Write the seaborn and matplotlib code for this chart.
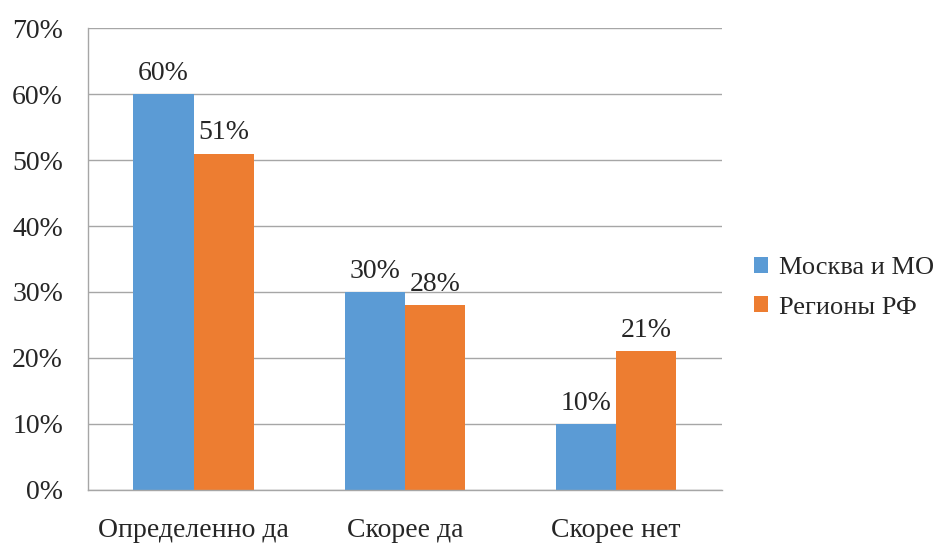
import pandas as pd
import seaborn as sns
import matplotlib.pyplot as plt
from matplotlib.ticker import FuncFormatter, FixedLocator

# Data
categories = ['Определенно да', 'Скорее да', 'Скорее нет']
groups = ['Москва и МО', 'Регионы РФ']
moscow = [60, 30, 10]
regions = [51, 28, 21]
colors = ['#5B9BD5', '#ED7D31']

df = pd.DataFrame({
    'category': categories * 2,
    'group': [groups[0]] * 3 + [groups[1]] * 3,
    'value': moscow + regions,
})

sns.set_style('white')
plt.rcParams['font.family'] = ['Liberation Serif', 'DejaVu Serif']

fig = plt.figure(figsize=(9.47, 5.43), dpi=100)
ax = fig.add_axes([0.093, 0.098, 0.669, 0.850])

sns.barplot(data=df, x='category', y='value', hue='group', palette=colors,
            width=0.57, saturation=1, linewidth=0, ax=ax, legend=True)

# Value labels on top of bars
for cont in ax.containers:
    ax.bar_label(cont, labels=[f'{int(v)}%' for v in cont.datavalues],
                 padding=6, fontsize=20)

ax.set_ylim(0, 70)
ax.set_xlim(-0.5, 2.5)
ax.set_yticks(range(0, 71, 10))
ax.yaxis.set_major_formatter(FuncFormatter(lambda v, p: f'{int(v)}%'))
ax.grid(axis='y', color='#A6A6A6', linewidth=1)
ax.set_axisbelow(True)

# Category ticks sit between the groups
ax.xaxis.set_minor_locator(FixedLocator([-0.5, 0.5, 1.5, 2.5]))
ax.tick_params(axis='x', which='major', length=0, pad=20, labelsize=20)
ax.tick_params(axis='x', which='minor', length=6, color='#A6A6A6', width=1)
ax.tick_params(axis='y', length=6, color='#A6A6A6', width=1, labelsize=20, pad=12)
ax.set_xlabel('')
ax.set_ylabel('')

for side in ['top', 'right']:
    ax.spines[side].set_visible(False)
for side in ['left', 'bottom']:
    ax.spines[side].set_color('#A6A6A6')
    ax.spines[side].set_linewidth(1)

handles, labels = ax.get_legend_handles_labels()
ax.get_legend().remove()
fig.legend(handles, labels, loc='center left', bbox_to_anchor=(0.771, 0.47),
           frameon=False, fontsize=19, handlelength=0.55, handleheight=0.55,
           handletextpad=0.4, labelspacing=0.65)

plt.savefig('out.png', dpi=100)
